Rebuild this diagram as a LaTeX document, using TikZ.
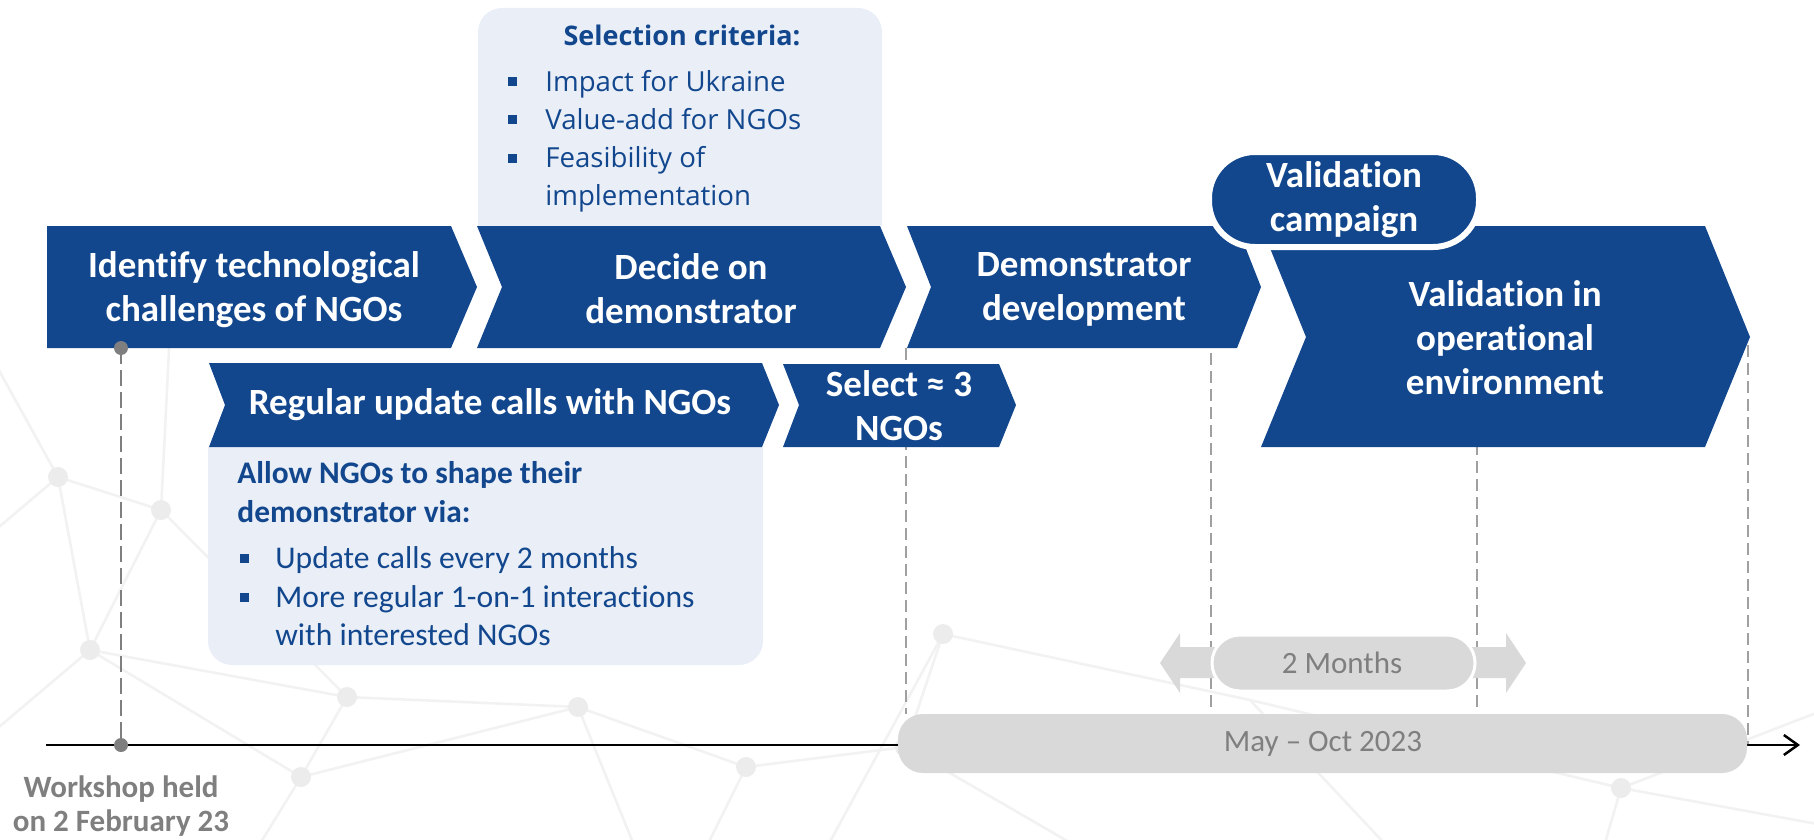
\documentclass[tikz,border=0pt]{standalone}
\usepackage{fontspec}
\setmainfont{Carlito}[Ligatures=NoCommon]
\newfontfamily\osans{Open Sans}
\usetikzlibrary{arrows.meta}
\definecolor{navy}{RGB}{18,71,142}
\definecolor{lightbox}{RGB}{233,238,247}
\definecolor{pillgray}{RGB}{217,217,217}
\definecolor{txtgray}{RGB}{127,127,127}
\definecolor{dashgray}{RGB}{160,160,160}
\definecolor{netline}{RGB}{242,242,242}
\definecolor{netdotc}{RGB}{236,236,236}
\tikzset{
 chev/.style={fill=navy},
 chevtext/.style={text=white,font=\bfseries\fontsize{18.5}{22}\selectfont,align=center,inner sep=0pt},
 lbox/.style={fill=lightbox},
 ctitle/.style={text=navy,font=\osans\bfseries\fontsize{13.5}{19}\selectfont,anchor=base,inner sep=0pt},
 citem/.style={text=navy,font=\osans\fontsize{13.8}{19}\selectfont,anchor=base west,inner sep=0pt},
 atitle/.style={text=navy,font=\bfseries\fontsize{15.7}{19}\selectfont,anchor=base west,inner sep=0pt},
 aitem/.style={text=navy,font=\fontsize{15.8}{19}\selectfont,anchor=base west,inner sep=0pt},
 bul/.style={fill=navy},
 guide/.style={draw=dashgray,line width=0.6pt,dash pattern=on 6pt off 3pt},
 wsguide/.style={draw=txtgray,line width=1pt,dash pattern=on 8pt off 3pt},
 wsdot/.style={circle,fill=txtgray,minimum size=7pt,inner sep=0pt},
 graytext/.style={text=txtgray,font=\fontsize{15.5}{19}\selectfont,inner sep=0pt},
 wstext/.style={text=txtgray,font=\bfseries\fontsize{15.5}{19}\selectfont,inner sep=0pt,anchor=base},
 net/.style={draw=netline,line width=1.3pt},
 netdot/.style={circle,fill=netdotc,minimum size=10pt,inner sep=0pt},
 pillfill/.style={fill=pillgray},
}
\begin{document}
\begin{tikzpicture}[x=0.5pt,y=-0.5pt]
\useasboundingbox (0,0) rectangle (1814,840);
% ---------- faint background network ----------
\begin{scope}
\clip (0,0) rectangle (1814,840);
\coordinate (n1) at (58,477);
\coordinate (n2) at (161,510);
\coordinate (n3) at (90,650);
\coordinate (n4) at (347,697);
\coordinate (n5) at (578,707);
\coordinate (n6) at (301,777);
\coordinate (n7) at (746,767);
\coordinate (n8) at (905,747);
\coordinate (n9) at (943,634);
\coordinate (n10) at (1621,788);
\coordinate (n11) at (1250,700);
\draw[net] (-40,300) -- (n1) -- (n2) -- (n4) -- (n5) -- (n7) -- (n8) -- (n9) -- (n11) -- (n10) -- (1850,830);
\draw[net] (n1) -- (n3) -- (n4);
\draw[net] (n2) -- (n3) -- (n6) -- (n4);
\draw[net] (-40,760) -- (n3);
\draw[net] (n6) -- (250,860);
\draw[net] (n6) -- (n5);
\draw[net] (n5) -- (640,860);
\draw[net] (n7) -- (700,860);
\draw[net] (n8) -- (1100,860);
\draw[net] (n9) -- (820,860);
\draw[net] (n10) -- (1600,860);
\draw[net] (n10) -- (1850,700);
\draw[net] (n11) -- (1400,860);
\draw[net] (n2) -- (170,330);
\draw[net] (n1) -- (-40,560);
\foreach \n in {n1,n2,n3,n4,n5,n6,n7,n8,n9,n10} \node[netdot] at (\n) {};
\end{scope}
% ---------- light boxes ----------
\fill[lbox] (478,226) -- (478,32) arc[start angle=180,end angle=90,radius=12pt] -- (858,8) arc[start angle=90,end angle=0,radius=12pt] -- (882,226) -- cycle;
\fill[lbox] (208,447) -- (208,641) arc[start angle=180,end angle=270,radius=12pt] -- (739,665) arc[start angle=270,end angle=360,radius=12pt] -- (763,447) -- cycle;
% ---------- guides and timeline ----------
\coordinate (g1a) at (906,348); \coordinate (g1b) at (906,714);
\coordinate (g2a) at (1211,245); \coordinate (g2b) at (1211,708);
\coordinate (g3a) at (1477,245); \coordinate (g3b) at (1477,708);
\coordinate (g4a) at (1748,345); \coordinate (g4b) at (1748,745);
\draw[guide] (g1a) -- (g1b);
\draw[guide] (g2a) -- (g2b);
\draw[guide] (g3a) -- (g3b);
\draw[guide] (g4a) -- (g4b);
\coordinate (tl0) at (46,745); \coordinate (tl1) at (1800,745);
\draw[line width=1.25pt,-{Straight Barb[length=7pt,width=10pt]}] (tl0) -- (tl1);
% ---------- chevrons ----------
\fill[chev] (47,226) -- (451,226) -- (477,287) -- (451,348) -- (47,348) -- cycle;
\fill[chev] (477,226) -- (880,226) -- (906,287) -- (880,348) -- (477,348) -- (502,287) -- cycle;
\fill[chev] (907,226) -- (1237,226) -- (1261,287) -- (1237,348) -- (907,348) -- (931,287) -- cycle;
\fill[chev] (1261,226) -- (1705,226) -- (1750,337) -- (1705,447) -- (1261,447) -- (1306,337) -- cycle;
\fill[chev] (209,363) -- (762,363) -- (779,405) -- (762,447) -- (209,447) -- (225,405) -- cycle;
\fill[chev] (783,364) -- (999,364) -- (1016,405) -- (999,447) -- (783,447) -- (799,405) -- cycle;
\draw[white,line width=3pt,fill=navy,rounded corners=23pt] (1209,152) rectangle (1479,247);
% ---------- chevron texts ----------
\node[chevtext] (t1) at (254,290) {Identify technological\\challenges of NGOs};
\node[chevtext] (t2) at (691,289) {Decide on\\demonstrator};
\node[chevtext] (t3) at (1084,289) {Demonstrator\\development};
\node[chevtext] (t4) at (1505,338) {Validation in\\operational\\environment};
\node[chevtext] (t5) at (490,405) {Regular update calls with NGOs};
\node[chevtext] (t6) at (899,406) {Select ≈ 3\\NGOs};
\node[chevtext] (vc) at (1344,200) {Validation\\campaign};
% ---------- selection criteria ----------
\node[ctitle] (sc) at (682,46) {Selection criteria:};
\fill[bul] (508,77.5) rectangle (517,86.5);
\fill[bul] (508,115.5) rectangle (517,124.5);
\fill[bul] (508,153.5) rectangle (517,162.5);
\node[citem] (sc1) at (545,92) {Impact for Ukraine};
\node[citem] (sc2) at (545,130) {Value-add for NGOs};
\node[citem] (sc3) at (545,168) {Feasibility of};
\node[citem] (sc3b) at (545,205) {implementation};
% ---------- allow box ----------
\node[atitle] (al1) at (237,483) {Allow NGOs to shape their};
\node[atitle] (al2) at (237,522) {demonstrator via:};
\fill[bul] (240,553.5) rectangle (249,562.5);
\fill[bul] (240,592.5) rectangle (249,601.5);
\node[aitem] (ai1) at (275,568) {Update calls every 2 months};
\node[aitem] (ai2) at (275,607) {More regular 1-on-1 interactions};
\node[aitem] (ai2b) at (275,645) {with interested NGOs};
% ---------- durations ----------
\fill[pillfill] (1160,663) -- (1180,633) -- (1180,647) -- (1506,647) -- (1506,633) -- (1526,663) -- (1506,693) -- (1506,678) -- (1180,678) -- (1180,693) -- cycle;
\draw[white,line width=1.5pt,fill=pillgray,rounded corners=13.9pt] (1212,635) rectangle (1475,691);
\node[graytext] (m2) at (1342,663) {2 Months};
\fill[pillfill,rounded corners=12.5pt] (898,714) rectangle (1747,773);
\node[graytext] (may) at (1323,744) {May – Oct 2023};
% ---------- workshop ----------
\coordinate (wa) at (121,348); \coordinate (wb) at (121,745);
\draw[wsguide] (wa) -- (wb);
\node[wsdot] (wd1) at (wa) {};
\node[wsdot] (wd2) at (wb) {};
\node[wstext] (ws1) at (121,797) {Workshop held};
\node[wstext] (ws2) at (121,831) {on 2 February 23};
\end{tikzpicture}
\end{document}
